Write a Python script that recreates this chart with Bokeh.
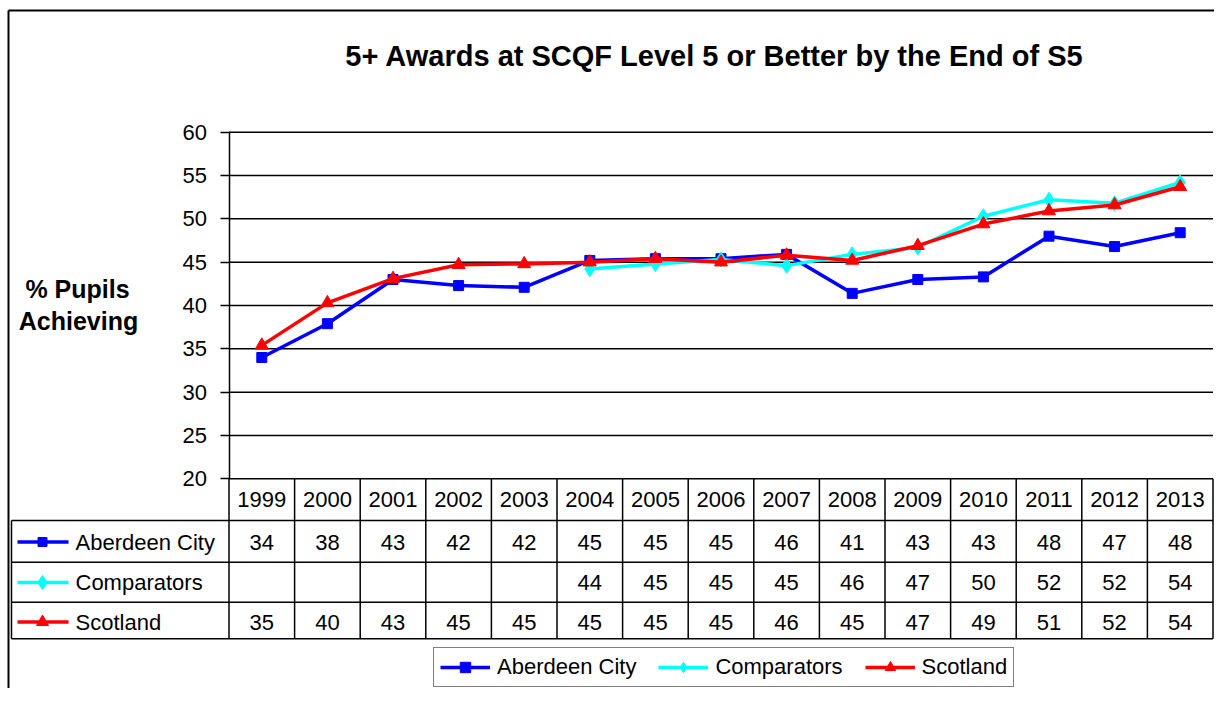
import math
from bokeh.plotting import figure
from bokeh.models import Range1d, FixedTicker, Legend, LegendItem, ColumnDataSource
from bokeh.core.properties import value
from bokeh.embed import file_html
from bokeh.resources import INLINE

NaN = float("nan")

# ---------------- data ----------------
years = ["1999", "2000", "2001", "2002", "2003", "2004", "2005", "2006",
         "2007", "2008", "2009", "2010", "2011", "2012", "2013"]
aberdeen_city = [34.0, 37.9, 43.0, 42.3, 42.1, 45.2, 45.4, 45.4, 45.9, 41.4,
                 43.0, 43.3, 48.0, 46.8, 48.4]
comparators = [NaN, NaN, NaN, NaN, NaN, 44.2, 44.8, 45.3, 44.6, 45.9,
               46.7, 50.3, 52.2, 51.8, 54.2]
scotland = [35.4, 40.3, 43.1, 44.7, 44.8, 45.0, 45.4, 45.0, 45.8, 45.2,
            46.9, 49.4, 50.9, 51.6, 53.7]
series_names = ["Aberdeen City", "Comparators", "Scotland"]
y_ticks = [20, 25, 30, 35, 40, 45, 50, 55, 60]
chart_title = "5+ Awards at SCQF Level 5 or Better by the End of S5"
y_title_lines = ["% Pupils", "Achieving"]

# ---------------- layout (canvas pixels) ----------------
PW, PH = 1214, 688
AXIS_X = 228.5
COL_W = 65.6
Y20 = 478.3
PX_PER_UNIT = 8.665
FONT = "Liberation Sans"
TXT = "22px"


def to_cat(px):
    return (px - AXIS_X) / COL_W - 0.5


def to_val(py):
    return 20 + (Y20 - py) / PX_PER_UNIT


p = figure(width=PW, height=PH, output_backend="svg", toolbar_location=None,
           x_range=Range1d(to_cat(0), to_cat(PW)),
           y_range=Range1d(to_val(PH), to_val(0)),
           min_border=0, title=None)
p.extra_x_ranges = {"px": Range1d(0, PW)}
p.extra_y_ranges = {"px": Range1d(PH, 0)}
p.outline_line_color = None
p.background_fill_color = "white"
p.border_fill_color = "white"
p.xgrid.visible = False
p.ygrid.visible = False
p.xaxis.visible = False

n = len(years)
idx = list(range(n))
x_left = -0.5
x_right = n - 0.5

# y axis (real axis, drawn at the left edge of the plot area)
ya = p.yaxis[0]
ya.fixed_location = x_left
ya.bounds = (y_ticks[0], y_ticks[-1])
ya.ticker = FixedTicker(ticks=y_ticks)
ya.major_tick_out = 9
ya.major_tick_in = 0
ya.minor_tick_out = 0
ya.minor_tick_in = 0
ya.major_label_standoff = 13
ya.major_label_text_font = FONT
ya.major_label_text_font_size = TXT
ya.major_label_text_color = "black"
ya.axis_line_color = "black"
ya.axis_line_width = 1.5
ya.major_tick_line_color = "black"
ya.major_tick_line_width = 1.5

# horizontal gridlines
p.segment(x0=[x_left] * len(y_ticks), x1=[x_right] * len(y_ticks),
          y0=y_ticks, y1=y_ticks, line_color="black", line_width=1.5)

# ---------------- data table ----------------
TABLE_TOP = Y20
ROW_LINES = [520.0, 561.7, 601.7, 638.3]
HEADER_Y = 499.0
ROW_Y = [541.5, 582.0, 621.5]
TABLE_LEFT = 11.0

col_edges = [i - 0.5 for i in range(n + 1)]
p.segment(x0=col_edges, x1=col_edges, y0=[TABLE_TOP] * len(col_edges),
          y1=[ROW_LINES[-1]] * len(col_edges), y_range_name="px",
          line_color="black", line_width=1.5)
p.segment(x0=[to_cat(TABLE_LEFT)] * len(ROW_LINES), x1=[x_right] * len(ROW_LINES),
          y0=ROW_LINES, y1=ROW_LINES, y_range_name="px",
          line_color="black", line_width=1.5)
p.segment(x0=[TABLE_LEFT], x1=[TABLE_LEFT], y0=[ROW_LINES[0]], y1=[ROW_LINES[-1]],
          x_range_name="px", y_range_name="px", line_color="black", line_width=1.5)

p.text(x=idx, y=[HEADER_Y] * n, text=years, y_range_name="px",
       text_font=value(FONT), text_font_size=TXT, text_color="black",
       text_align="center", text_baseline="middle")


def fmt(v):
    return "" if (v is None or math.isnan(v)) else str(int(v + 0.5))


colors = ["#0000FF", "#00FFFF", "#FF0000"]
markers = ["square", "diamond", "triangle"]
sizes = [10, 15, 13]
series = [aberdeen_city, comparators, scotland]

for k, vals in enumerate(series):
    p.text(x=idx, y=[ROW_Y[k]] * n, text=[fmt(v) for v in vals], y_range_name="px",
           text_font=value(FONT), text_font_size=TXT, text_color="black",
           text_align="center", text_baseline="middle")
    # key in the table
    p.segment(x0=[17], x1=[68], y0=[ROW_Y[k]], y1=[ROW_Y[k]],
              x_range_name="px", y_range_name="px", line_color=colors[k], line_width=3.5)
    p.scatter(x=[42], y=[ROW_Y[k]], x_range_name="px", y_range_name="px",
              marker=markers[k], size=sizes[k] - 1, color=colors[k])
    p.text(x=[75], y=[ROW_Y[k]], text=[series_names[k]], x_range_name="px", y_range_name="px",
           text_font=value(FONT), text_font_size=TXT, text_color="black",
           text_align="left", text_baseline="middle")

# ---------------- series ----------------
src = ColumnDataSource(dict(x=idx, a=aberdeen_city, c=comparators, s=scotland))
legend_items = []
for k, col in enumerate(["a", "c", "s"]):
    lr = p.line("x", col, source=src, line_color=colors[k], line_width=3.5)
    mr = p.scatter("x", col, source=src, marker=markers[k], size=sizes[k],
                   color=colors[k])
    legend_items.append(LegendItem(label=series_names[k], renderers=[lr, mr]))

legend = Legend(items=legend_items, orientation="horizontal", location=(433, 1),
                glyph_width=50, glyph_height=26, label_text_font=FONT,
                label_text_font_size=TXT, label_text_color="black",
                label_standoff=7, spacing=22, padding=6,
                border_line_color="black", border_line_width=1.5,
                margin=0, background_fill_alpha=1.0)
p.add_layout(legend)

# ---------------- titles & frame ----------------
p.text(x=[714], y=[55], text=[chart_title], x_range_name="px", y_range_name="px",
       text_font=value(FONT), text_font_size="29px", text_font_style="bold",
       text_color="black", text_align="center", text_baseline="middle")
p.text(x=[77, 78], y=[288, 320], text=y_title_lines, x_range_name="px", y_range_name="px",
       text_font=value(FONT), text_font_size="25px", text_font_style="bold",
       text_color="black", text_align="center", text_baseline="middle")

p.segment(x0=[8, 8], x1=[8, PW], y0=[10, 10], y1=[PH, 10],
          x_range_name="px", y_range_name="px", line_color="black", line_width=2)

open("out.html", "w").write(file_html(p, INLINE))
